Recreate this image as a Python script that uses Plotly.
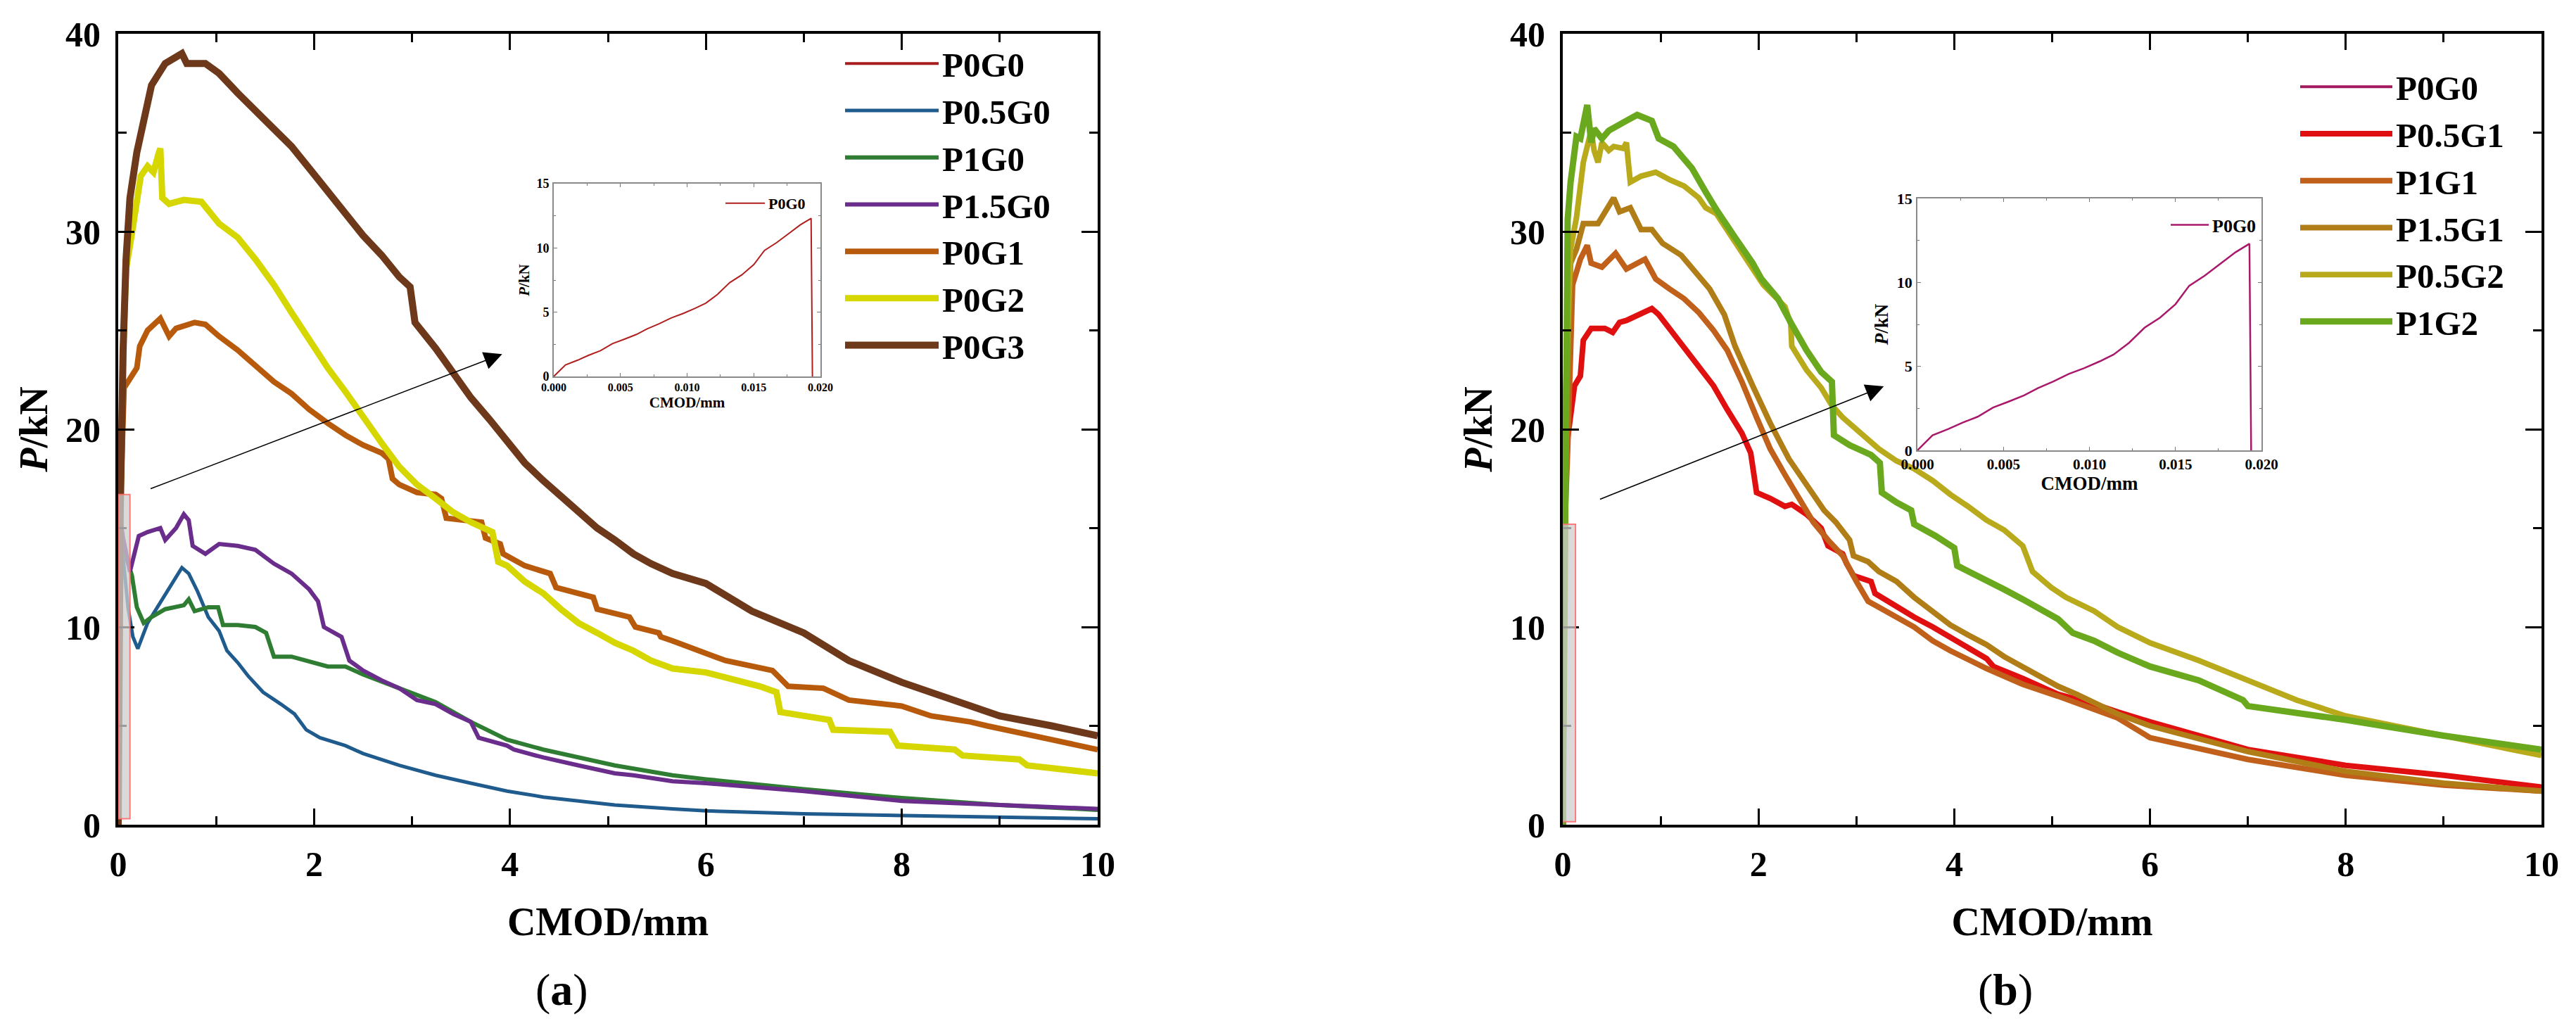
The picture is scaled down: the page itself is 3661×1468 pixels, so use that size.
import plotly.graph_objects as go

W, H = 3661, 1468
OFF = 8  # page body margin of the browser; positions below are compensated for it
FONT = "Liberation Serif"

# ---------------- data ----------------
# P0G0 pre-peak curve (used in insets and main panels)
p0g0_x = [0, 0.00088, 0.0018, 0.0026, 0.0035, 0.0044, 0.0053, 0.0062, 0.0070, 0.0079, 0.0088, 0.0097,
          0.0106, 0.0114, 0.0123, 0.0132, 0.0141, 0.0150, 0.0158, 0.0167, 0.0176, 0.0185, 0.0193, 0.0194]
p0g0_y = [0, 0.9, 1.27, 1.64, 2.0, 2.55, 2.9, 3.27, 3.7, 4.1, 4.55, 4.9, 5.3, 5.7, 6.4, 7.3, 7.9,
          8.7, 9.8, 10.4, 11.1, 11.8, 12.3, 0]

# Panel (a)
p05g0_x = [0, 0.02, 0.05, 0.1, 0.15, 0.2, 0.3, 0.45, 0.58, 0.65, 0.72, 0.81, 0.92, 1.03, 1.11, 1.22, 1.33,
           1.48, 1.66, 1.8, 1.92, 2.06, 2.32, 2.5, 2.87, 3.24, 3.6, 3.97, 4.34, 4.7, 5.07, 5.66, 6, 7, 8, 9, 10]
p05g0_y = [0, 15.5, 13.5, 11.0, 9.5, 8.9, 10.2, 11.4, 12.4, 13.0, 12.7, 11.8, 10.5, 9.8, 8.8, 8.2, 7.5,
           6.7, 6.1, 5.6, 4.8, 4.4, 4.0, 3.6, 3.0, 2.5, 2.1, 1.7, 1.4, 1.2, 1.0, 0.8, 0.7, 0.55, 0.45, 0.38, 0.3]

p1g0_x = [0, 0.02, 0.05, 0.14, 0.19, 0.26, 0.34, 0.48, 0.67, 0.72, 0.78, 0.92, 1.02, 1.07, 1.22, 1.4, 1.51,
          1.59, 1.77, 2.14, 2.32, 2.5, 2.87, 3.24, 3.6, 3.97, 4.34, 4.7, 5.07, 5.66, 6, 7, 8, 9, 10]
p1g0_y = [0, 15.5, 14.0, 12.6, 11.0, 10.2, 10.5, 10.9, 11.1, 11.4, 10.8, 11.0, 11.0, 10.1, 10.1, 10.0, 9.7,
          8.5, 8.5, 8.0, 8.0, 7.6, 6.9, 6.2, 5.2, 4.3, 3.8, 3.4, 3.0, 2.5, 2.3, 1.8, 1.35, 1.0, 0.75]

p15g0_x = [0, 0.02, 0.05, 0.12, 0.21, 0.3, 0.43, 0.48, 0.59, 0.67, 0.72, 0.76, 0.89, 1.03, 1.22, 1.4, 1.59,
           1.77, 1.95, 2.04, 2.1, 2.28, 2.36, 2.5, 2.69, 2.87, 3.05, 3.24, 3.42, 3.6, 3.68, 3.97, 4.04, 4.34,
           4.7, 5.07, 5.26, 5.66, 6, 7, 8, 9, 10]
p15g0_y = [0, 15.5, 14.5, 12.8, 14.6, 14.8, 15.0, 14.4, 15.0, 15.7, 15.4, 14.1, 13.7, 14.2, 14.1, 13.9, 13.2,
           12.7, 11.9, 11.3, 10.0, 9.5, 8.3, 7.8, 7.3, 6.9, 6.3, 6.1, 5.6, 5.2, 4.4, 4.0, 3.8, 3.4,
           3.0, 2.6, 2.5, 2.2, 2.1, 1.7, 1.2, 1.0, 0.8]

p0g1_x = [0, 0.02, 0.04, 0.06, 0.1, 0.19, 0.22, 0.3, 0.43, 0.52, 0.59, 0.78, 0.89, 1.03, 1.22, 1.4, 1.59,
          1.77, 1.95, 2.14, 2.32, 2.5, 2.69, 2.76, 2.8, 2.87, 3.05, 3.24, 3.3, 3.35, 3.6, 3.71, 3.75, 3.9,
          3.93, 4.15, 4.41, 4.47, 4.85, 4.89, 5.22, 5.28, 5.52, 5.54, 5.66, 6.0, 6.2, 6.68, 6.84, 7.2,
          7.46, 8.0, 8.3, 8.7, 8.87, 9.53, 10]
p0g1_y = [0, 15.5, 19.0, 22.1, 22.4, 23.1, 24.2, 25.0, 25.6, 24.7, 25.1, 25.4, 25.3, 24.7, 24.0, 23.2, 22.4,
          21.8, 21.0, 20.3, 19.7, 19.2, 18.8, 18.5, 17.5, 17.2, 16.8, 16.7, 16.5, 15.5, 15.4, 15.3, 14.5, 14.2,
          13.7, 13.1, 12.7, 12.0, 11.5, 10.9, 10.5, 10.0, 9.7, 9.5, 9.3, 8.7, 8.3, 7.8, 7.0, 6.9,
          6.3, 6.0, 5.5, 5.2, 5.0, 4.3, 3.8]

p0g2_x = [0, 0.02, 0.05, 0.08, 0.14, 0.23, 0.3, 0.36, 0.41, 0.43, 0.45, 0.52, 0.67, 0.85, 1.03, 1.22, 1.4,
          1.59, 1.77, 1.95, 2.14, 2.32, 2.5, 2.69, 2.87, 3.05, 3.24, 3.42, 3.6, 3.82, 3.88, 3.97, 4.15, 4.34,
          4.52, 4.7, 4.89, 5.07, 5.26, 5.44, 5.66, 6.0, 6.55, 6.72, 6.76, 7.05, 7.26, 7.3, 7.88, 7.96, 8.54,
          8.62, 9.2, 9.28, 10]
p0g2_y = [0, 15.5, 24, 28.1, 29.9, 32.8, 33.3, 33.0, 33.9, 34.2, 31.7, 31.4, 31.6, 31.5, 30.4, 29.7, 28.6,
          27.3, 25.9, 24.5, 23.1, 21.9, 20.6, 19.3, 18.1, 17.2, 16.5, 15.8, 15.3, 14.8, 13.3, 13.1, 12.3, 11.7,
          10.9, 10.2, 9.7, 9.2, 8.8, 8.3, 7.9, 7.7, 7.0, 6.7, 5.7, 5.5, 5.3, 4.8, 4.7, 4.0, 3.8,
          3.5, 3.3, 3.0, 2.6]

p0g3_x = [0, 0.02, 0.05, 0.08, 0.12, 0.19, 0.34, 0.48, 0.65, 0.7, 0.89, 1.03, 1.22, 1.4, 1.59, 1.77, 1.95,
          2.14, 2.32, 2.5, 2.69, 2.87, 2.98, 3.03, 3.24, 3.42, 3.6, 3.79, 3.97, 4.15, 4.34, 4.52, 4.7, 4.89,
          5.07, 5.26, 5.44, 5.66, 6.0, 6.47, 7.0, 7.46, 8.0, 8.54, 9.0, 9.53, 10]
p0g3_y = [0, 15.5, 24, 28.6, 31.7, 34.0, 37.4, 38.5, 39.0, 38.5, 38.5, 38.0, 37.0, 36.1, 35.2, 34.3, 33.2,
          32.0, 30.8, 29.8, 28.8, 27.7, 27.2, 25.4, 24.1, 22.9, 21.6, 20.5, 19.4, 18.3, 17.4, 16.6, 15.8, 15.0,
          14.4, 13.7, 13.2, 12.7, 12.2, 10.8, 9.7, 8.3, 7.2, 6.3, 5.5, 5.0, 4.5]

# Panel (b)
p05g1_x = [0, 0.02, 0.03, 0.07, 0.12, 0.18, 0.21, 0.29, 0.43, 0.51, 0.58, 0.65, 0.84, 0.91, 0.98, 1.09, 1.24,
           1.39, 1.54, 1.68, 1.83, 1.92, 1.96, 1.98, 2.12, 2.27, 2.34, 2.49, 2.64, 2.71, 2.86, 2.9, 2.97, 3.15,
           3.19, 3.41, 3.59, 3.78, 3.96, 4.33, 4.4, 4.7, 5.06, 5.43, 5.67, 6, 7, 8, 9, 10]
p05g1_y = [0, 15, 18.8, 20.3, 22.2, 22.7, 24.5, 25.1, 25.1, 24.9, 25.4, 25.5, 25.9, 26.1, 25.8, 25.1, 24.2,
           23.2, 22.2, 21.0, 19.8, 18.8, 17.5, 16.8, 16.5, 16.1, 16.2, 15.7, 15.0, 14.1, 13.7, 13.2, 12.6, 12.3,
           11.7, 11.0, 10.5, 10.0, 9.5, 8.4, 8.0, 7.4, 6.6, 6.1, 5.7, 5.2, 3.8, 3.0, 2.5, 1.9]

p1g1_x = [0, 0.02, 0.05, 0.1, 0.18, 0.25, 0.29, 0.4, 0.54, 0.65, 0.84, 0.95, 1.09, 1.24, 1.39, 1.54, 1.68,
          1.83, 1.98, 2.12, 2.27, 2.42, 2.56, 2.71, 2.86, 3.0, 3.12, 3.23, 3.41, 3.59, 3.78, 3.96, 4.33, 4.7,
          5.06, 5.43, 5.67, 6, 7, 8, 9, 10]
p1g1_y = [0, 15, 19, 27.3, 28.6, 29.3, 28.4, 28.2, 28.9, 28.1, 28.6, 27.6, 27.1, 26.6, 25.9, 25.0, 24.0,
          22.4, 20.6, 19.0, 17.7, 16.5, 15.3, 14.4, 13.6, 12.3, 11.3, 11.0, 10.5, 10.0, 9.3, 8.8, 7.9, 7.1,
          6.5, 5.8, 5.4, 4.4, 3.3, 2.5, 2.0, 1.7]

p15g1_x = [0, 0.02, 0.03, 0.08, 0.14, 0.21, 0.36, 0.52, 0.58, 0.69, 0.8, 0.91, 1.02, 1.21, 1.39, 1.5, 1.65,
           1.76, 1.94, 2.12, 2.31, 2.49, 2.67, 2.79, 2.93, 2.97, 3.12, 3.23, 3.41, 3.59, 3.78, 3.96, 4.14, 4.33,
           4.51, 4.7, 4.88, 5.06, 5.25, 5.43, 5.67, 6, 7, 8, 9, 10]
p15g1_y = [0, 15, 18.8, 28.4, 29.1, 30.4, 30.4, 31.7, 31.0, 31.2, 30.1, 30.1, 29.4, 28.8, 27.8, 27.1, 25.8,
           24.2, 22.2, 20.3, 18.5, 17.2, 15.9, 15.3, 14.4, 13.6, 13.3, 12.8, 12.3, 11.5, 10.8, 10.1, 9.6, 9.1,
           8.5, 8.0, 7.5, 7.0, 6.6, 6.2, 5.6, 5.0, 3.7, 2.7, 2.1, 1.7]

p05g2_x = [0, 0.02, 0.03, 0.08, 0.14, 0.21, 0.29, 0.32, 0.36, 0.4, 0.47, 0.52, 0.62, 0.65, 0.69, 0.8, 0.95,
           1.1, 1.24, 1.39, 1.46, 1.57, 1.76, 1.94, 2.05, 2.27, 2.33, 2.34, 2.49, 2.64, 2.75, 2.86, 3.04, 3.23,
           3.41, 3.59, 3.78, 3.96, 4.14, 4.33, 4.51, 4.7, 4.8, 4.99, 5.14, 5.43, 5.67, 6, 6.5, 7, 7.5, 8, 9, 10]
p05g2_y = [0, 15, 22, 29.1, 30.7, 33.5, 35.1, 34.1, 33.5, 34.5, 34.1, 34.3, 34.2, 34.5, 32.5, 32.8, 33.0,
           32.6, 32.3, 31.7, 31.2, 30.9, 29.5, 28.2, 27.3, 26.2, 25.3, 24.2, 23.0, 22.1, 21.2, 20.6, 19.8, 19.0,
           18.4, 18.0, 17.4, 16.7, 16.1, 15.4, 14.9, 14.1, 12.8, 12.0, 11.5, 10.8, 10.0, 9.2, 8.3, 7.3, 6.3,
           5.5, 4.5, 3.5]

p1g2_x = [0, 0.02, 0.05, 0.08, 0.14, 0.18, 0.21, 0.25, 0.29, 0.32, 0.4, 0.47, 0.65, 0.76, 0.91, 0.98, 1.13,
          1.32, 1.46, 1.57, 1.76, 1.94, 2.03, 2.2, 2.34, 2.49, 2.64, 2.75, 2.77, 2.93, 3.15, 3.24, 3.26, 3.41,
          3.56, 3.59, 3.81, 4.0, 4.03, 4.33, 4.51, 4.7, 4.88, 5.06, 5.21, 5.43, 5.67, 6, 6.5, 6.95, 7.0, 8, 9, 10]
p1g2_y = [0, 15, 30.6, 32.5, 34.8, 34.7, 35.6, 36.4, 34.5, 35.2, 34.7, 35.1, 35.6, 35.9, 35.6, 34.7, 34.3,
          33.2, 32.0, 31.1, 29.7, 28.4, 27.6, 26.6, 25.3, 24.0, 22.9, 22.4, 19.7, 19.2, 18.7, 18.3, 16.8, 16.3,
          15.9, 15.2, 14.6, 14.0, 13.1, 12.4, 11.9, 11.4, 10.9, 10.4, 9.7, 9.3, 8.7, 8.0, 7.3, 6.3, 6.0, 5.3, 4.5, 3.8]

series_a = [("P0G0", p0g0_x, p0g0_y, "#a81e1e", 4),
            ("P0.5G0", p05g0_x, p05g0_y, "#1f5b8c", 5),
            ("P1G0", p1g0_x, p1g0_y, "#2e7d32", 6),
            ("P1.5G0", p15g0_x, p15g0_y, "#6a2d8c", 6),
            ("P0G1", p0g1_x, p0g1_y, "#b85a0c", 8),
            ("P0G2", p0g2_x, p0g2_y, "#d6d600", 9),
            ("P0G3", p0g3_x, p0g3_y, "#6e381a", 10)]
series_b = [("P0G0", p0g0_x, p0g0_y, "#a3195e", 4),
            ("P0.5G1", p05g1_x, p05g1_y, "#e01010", 8),
            ("P1G1", p1g1_x, p1g1_y, "#c0601a", 8),
            ("P1.5G1", p15g1_x, p15g1_y, "#b07d16", 8),
            ("P0.5G2", p05g2_x, p05g2_y, "#b9aa1c", 8),
            ("P1G2", p1g2_x, p1g2_y, "#6aa91e", 9)]

# ---------------- figure ----------------
fig = go.Figure()

for name, xs, ys, col, w in series_a:
    fig.add_trace(go.Scatter(x=xs, y=ys, mode="lines", name=name, line=dict(color=col, width=w),
                             xaxis="x", yaxis="y", legend="legend"))
for name, xs, ys, col, w in series_b:
    fig.add_trace(go.Scatter(x=xs, y=ys, mode="lines", name=name, line=dict(color=col, width=w),
                             xaxis="x2", yaxis="y2", legend="legend2"))
fig.add_trace(go.Scatter(x=p0g0_x, y=p0g0_y, mode="lines", name="P0G0", line=dict(color="#b01e1e", width=2),
                         xaxis="x3", yaxis="y3", legend="legend3"))
fig.add_trace(go.Scatter(x=p0g0_x, y=p0g0_y, mode="lines", name="P0G0", line=dict(color="#a8196b", width=2.5),
                         xaxis="x4", yaxis="y4", legend="legend4"))


def px_x(p):
    return (p - OFF) / W


def px_y(p):
    return 1 - (p - OFF) / H


tick_font = dict(family=FONT, size=50, color="black", weight="bold")
title_font = dict(family=FONT, size=56, color="black", weight="bold")


def main_x(dom):
    return dict(domain=dom, range=[0, 10], dtick=2, tick0=0, ticks="inside", ticklen=23, tickwidth=3,
                tickcolor="black", showline=True, linewidth=4, linecolor="black", mirror="allticks",
                showgrid=False, zeroline=False, tickfont=tick_font, ticklabelstandoff=9, automargin=False,
                minor=dict(dtick=1, tick0=0, ticks="inside", ticklen=12, tickwidth=3, tickcolor="black",
                           showgrid=False),
                title=dict(text="CMOD/mm", font=title_font, standoff=36))


def main_y(dom, anchor):
    return dict(domain=dom, anchor=anchor, range=[0, 40], dtick=10, tick0=0, ticks="inside", ticklen=23,
                tickwidth=3, tickcolor="black", showline=True, linewidth=4, linecolor="black",
                mirror="allticks", showgrid=False, zeroline=False, tickfont=tick_font, ticklabelstandoff=11,
                automargin=False,
                minor=dict(dtick=5, tick0=0, ticks="inside", ticklen=12, tickwidth=3, tickcolor="black",
                           showgrid=False),
                title=dict(text="<i>P</i>/kN", font=title_font, standoff=8))


def inset_x(dom, anchor, fs, tfs):
    return dict(domain=dom, anchor=anchor, range=[0, 0.020], dtick=0.005, tick0=0, tickformat=".3f",
                ticks="inside", ticklen=5, tickwidth=1.2, tickcolor="#777", showline=True, linewidth=1.6,
                linecolor="#8a8a8a", mirror="allticks", showgrid=False, zeroline=False, automargin=False,
                tickfont=dict(family=FONT, size=fs, color="black", weight="bold"), ticklabelstandoff=0,
                minor=dict(dtick=0.0025, tick0=0, ticks="inside", ticklen=3, tickwidth=1, tickcolor="#777",
                           showgrid=False),
                title=dict(text="CMOD/mm", font=dict(family=FONT, size=tfs, color="black", weight="bold"),
                           standoff=6))


def inset_y(dom, anchor, fs, tfs):
    return dict(domain=dom, anchor=anchor, range=[0, 15], dtick=5, tick0=0, ticks="inside", ticklen=5,
                tickwidth=1.2, tickcolor="#777", showline=True, linewidth=1.6, linecolor="#8a8a8a",
                mirror="allticks", showgrid=False, zeroline=False, automargin=False,
                tickfont=dict(family=FONT, size=fs, color="black", weight="bold"), ticklabelstandoff=1,
                minor=dict(dtick=2.5, tick0=0, ticks="inside", ticklen=3, tickwidth=1, tickcolor="#777",
                           showgrid=False),
                title=dict(text="<i>P</i>/kN", font=dict(family=FONT, size=tfs, color="black", weight="bold"),
                           standoff=4))


ydom_main = [px_y(1172), px_y(48)]
leg_common = dict(xanchor="left", yanchor="top", bgcolor="rgba(0,0,0,0)", borderwidth=0, tracegroupgap=0)

fig.update_layout(
    width=W, height=H, margin=dict(l=0, r=0, t=0, b=0, pad=0, autoexpand=False),
    paper_bgcolor="white", plot_bgcolor="white",
    xaxis=main_x([px_x(168), px_x(1560)]),
    yaxis=main_y(ydom_main, "x"),
    xaxis2=dict(main_x([px_x(2221), px_x(3612)]), anchor="y2"),
    yaxis2=main_y(ydom_main, "x2"),
    xaxis3=inset_x([px_x(787), px_x(1166)], "y3", 16, 21),
    yaxis3=inset_y([px_y(535), px_y(261)], "x3", 18, 21),
    xaxis4=inset_x([px_x(2725), px_x(3214)], "y4", 21, 27),
    yaxis4=inset_y([px_y(640), px_y(282)], "x4", 22, 27),
    legend=dict(leg_common, x=px_x(1196), y=px_y(52), itemwidth=133,
                font=dict(family=FONT, size=49, color="black", weight="bold")),
    legend2=dict(leg_common, x=px_x(3264), y=px_y(85), itemwidth=131,
                 font=dict(family=FONT, size=49, color="black", weight="bold")),
    legend3=dict(leg_common, x=px_x(1026), y=px_y(268), itemwidth=56,
                 font=dict(family=FONT, size=22, color="black", weight="bold")),
    legend4=dict(leg_common, x=px_x(3080), y=px_y(296), itemwidth=54,
                 font=dict(family=FONT, size=26, color="black", weight="bold")),
    showlegend=True,
)

# zoom-region rectangles
fig.add_shape(type="rect", xref="x", yref="y", x0=0, x1=0.12, y0=0.3, y1=16.7,
              fillcolor="rgba(205,205,205,0.75)", line=dict(color="rgba(255,110,110,0.9)", width=2), layer="above")
fig.add_shape(type="rect", xref="x2", yref="y2", x0=0, x1=0.13, y0=0.15, y1=15.2,
              fillcolor="rgba(205,205,205,0.75)", line=dict(color="rgba(255,110,110,0.9)", width=2), layer="above")

# arrows pointing to insets
fig.add_annotation(xref="x", yref="y", axref="x", ayref="y", x=3.92, y=23.8, ax=0.32, ay=16.97, text="",
                   showarrow=True, arrowhead=2, arrowsize=3.2, arrowwidth=1.6, arrowcolor="black")
fig.add_annotation(xref="x2", yref="y2", axref="x2", ayref="y2", x=3.28, y=22.17, ax=0.37, ay=16.44, text="",
                   showarrow=True, arrowhead=2, arrowsize=3.2, arrowwidth=1.6, arrowcolor="black")

# panel labels
for lab, cx in (("a", 798), ("b", 2850)):
    fig.add_annotation(xref="paper", yref="paper", x=px_x(cx), y=px_y(1406), xanchor="center", yanchor="middle",
                       text="(<b>%s</b>)" % lab, showarrow=False,
                       font=dict(family=FONT, size=64, color="black"))

fig.write_html("out.html")
